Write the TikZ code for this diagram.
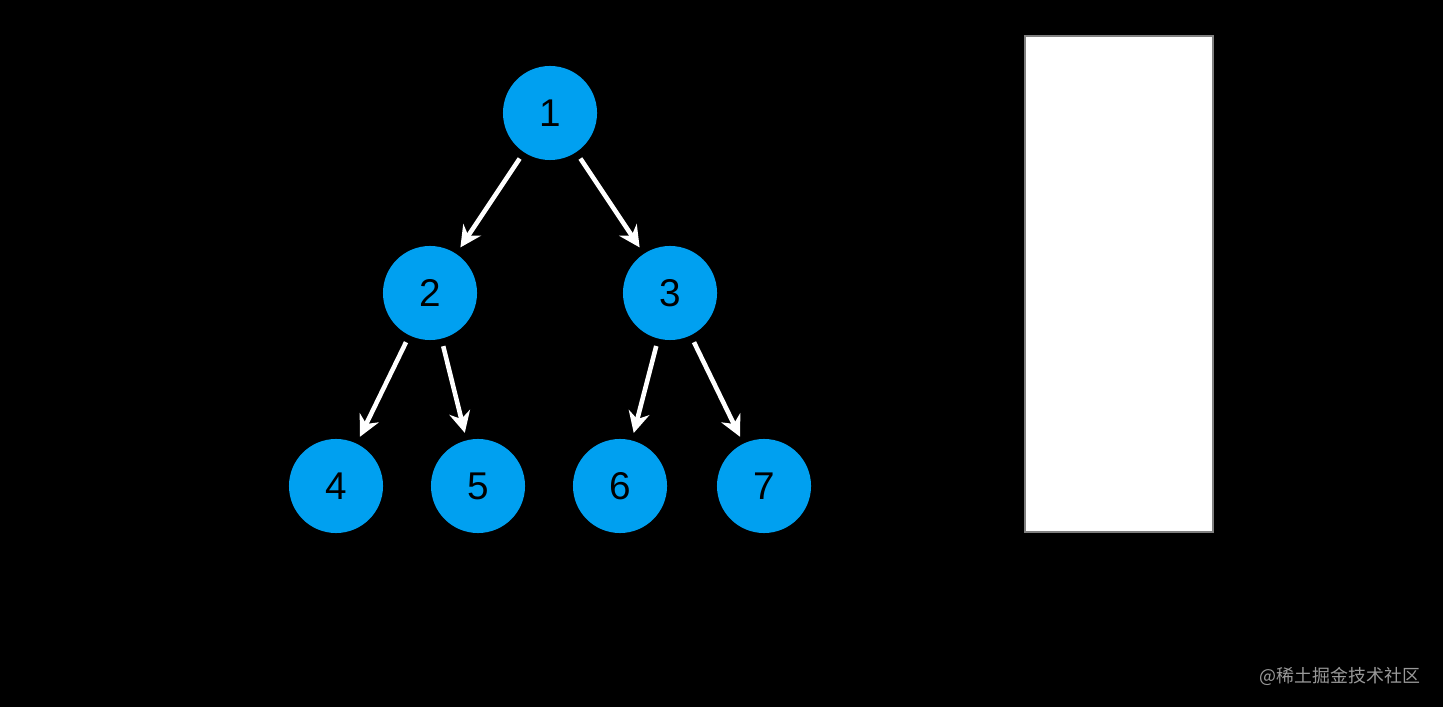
\documentclass[tikz,border=0pt]{standalone}
\usepackage{fontspec}
\setmainfont{Liberation Sans}
\newfontfamily\cjk{Noto Sans CJK SC}
\usetikzlibrary{arrows.meta}
\begin{document}
\begin{tikzpicture}[x=0.01cm,y=-0.01cm,
  nd/.style={circle,fill={rgb,255:red,0;green,160;blue,240},minimum size=0.94cm,inner sep=0pt,font=\fontsize{11}{13}\selectfont},
  ar/.style={draw=white,line width=1.3pt,-{Stealth[length=6pt,width=6pt]},shorten >=2pt,shorten <=2pt}]
\fill[black] (0,0) rectangle (1443,707);
\useasboundingbox (0,0) rectangle (1443,707);
\node[nd] (n1) at (550,113) {1};
\node[nd] (n2) at (430,293) {2};
\node[nd] (n3) at (670,293) {3};
\node[nd] (n4) at (336,486) {4};
\node[nd] (n5) at (478,486) {5};
\node[nd] (n6) at (620,486) {6};
\node[nd] (n7) at (764,486) {7};
\draw[ar] (n1) -- (n2);
\draw[ar] (n1) -- (n3);
\draw[ar] (n2) -- (n4);
\draw[ar] (n2) -- (n5);
\draw[ar] (n3) -- (n6);
\draw[ar] (n3) -- (n7);
\node[draw=gray,fill=white,line width=0.6pt,minimum width=1.88cm,minimum height=4.96cm,inner sep=0pt] (stack) at (1119,284) {};
\node[text=gray!80,font=\cjk\fontsize{5.1}{6}\selectfont] (wm) at (1340,676) {@稀土掘金技术社区};
\end{tikzpicture}
\end{document}
